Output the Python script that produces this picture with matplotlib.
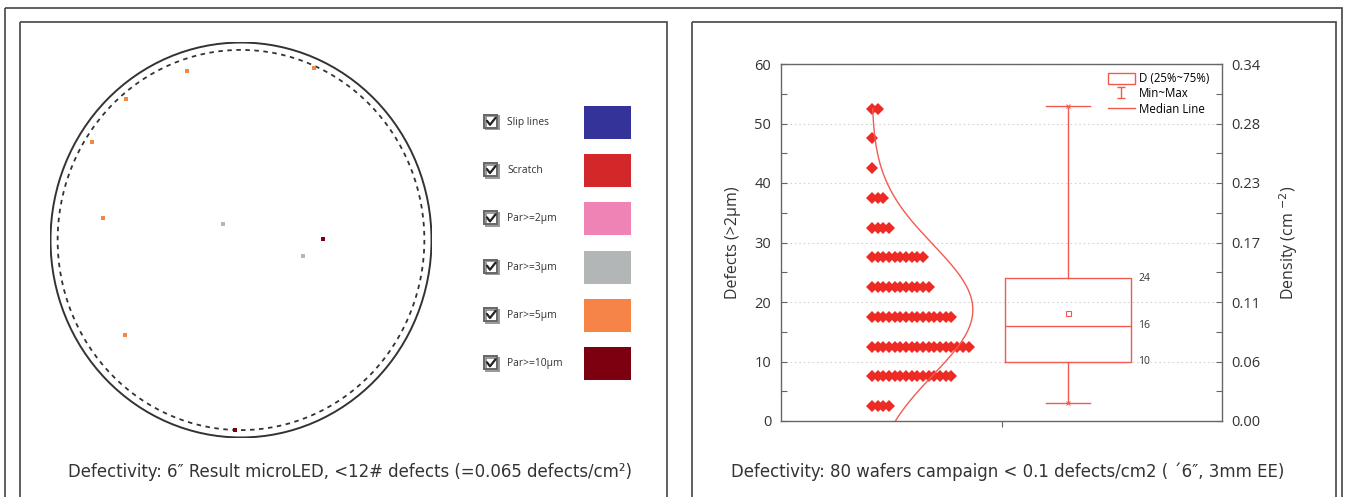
import numpy as np
import matplotlib
matplotlib.use('Agg')
import matplotlib.pyplot as plt
from matplotlib.patches import Rectangle, Ellipse
from matplotlib.lines import Line2D

W, H = 1345, 497
DPI = 100

# ---------------- data: left panel (wafer map, mm from wafer centre) ----------------
legend_labels = ['Slip lines', 'Scratch', 'Par>=2µm', 'Par>=3µm', 'Par>=5µm', 'Par>=10µm']
legend_colors = ['#333399', '#D2282A', '#F083B5', '#B3B6B6', '#F58446', '#7C0010']
par5_x = [-21.3, 28.7, -45.3, -58.5, -54.2, -45.6]
par5_y = [63.9, 65.3, 53.3, 37.2, 8.3, -36.0]
par3_x = [-6.9, 24.2]
par3_y = [6.2, -5.9]
par10_x = [32.1, -2.5]
par10_y = [0.2, -71.9]
wafer_radius_mm = 75
edge_exclusion_mm = 3

# ---------------- data: right panel ----------------
bin_centers = [2.5, 7.5, 12.5, 17.5, 22.5, 27.5, 32.5, 37.5, 42.5, 47.5, 52.5]
bin_counts = [4, 15, 18, 15, 11, 10, 4, 3, 1, 1, 2]
box_q1, box_median, box_q3 = 10, 16, 24
box_mean = 18.1
box_min, box_max = 3, 53
left_ticks = [0, 10, 20, 30, 40, 50, 60]
density_labels = ['0.00', '0.06', '0.11', '0.17', '0.23', '0.28', '0.34']

caption_left = 'Defectivity: 6″ Result microLED, <12# defects (=0.065 defects/cm²)'
caption_right = 'Defectivity: 80 wafers campaign < 0.1 defects/cm2 ( ´6″, 3mm EE)'

RED = '#EE2A24'
BOXRED = '#F25A50'
TXT = '#333333'
SANS = ['Open Sans', 'DejaVu Sans']
CAPF = ['DejaVu Sans']

plt.rcParams['font.family'] = SANS

fig = plt.figure(figsize=(W / DPI, H / DPI), dpi=DPI)


def px_axes(x0, y0, x1, y1, **kw):
    return fig.add_axes([x0 / W, 1 - y1 / H, (x1 - x0) / W, (y1 - y0) / H], **kw)


# ---------------- background / frames / captions ----------------
bg = px_axes(0, 0, W, H, zorder=0)
bg.set_xlim(0, W)
bg.set_ylim(H, 0)
bg.axis('off')
frame_c = '#444444'
bg.add_patch(Rectangle((5, 8), 1337, H, fill=False, ec=frame_c, lw=1.2))
bg.add_patch(Rectangle((20, 22), 647, H, fill=False, ec=frame_c, lw=1.2))
bg.add_patch(Rectangle((692, 22), 644, H, fill=False, ec=frame_c, lw=1.2))
bg.text(350, 472, caption_left, ha='center', va='center', fontsize=13.2,
        family=CAPF, fontstretch='condensed', color=TXT)
bg.text(1008, 472, caption_right, ha='center', va='center', fontsize=13.2,
        family=CAPF, fontstretch='condensed', color=TXT)

# left panel legend (checkbox + label + swatch)
for i, (lab, col) in enumerate(zip(legend_labels, legend_colors)):
    cy = 122.3 + 48.3 * i
    bg.add_patch(Rectangle((485.5, cy - 6), 13, 13, fill=False, ec='#999999', lw=1.4))
    bg.add_patch(Rectangle((484, cy - 7.5), 13, 13, fill=False, ec='#666666', lw=1.4))
    bg.plot([487, 490, 495.5], [cy - 1.5, cy + 2.5, cy - 4.5], color='#222222', lw=1.6,
            solid_capstyle='round')
    bg.text(507, cy, lab, ha='left', va='center', fontsize=7.4, color=TXT)
    bg.add_patch(Rectangle((584, cy - 16.5), 47, 33, fc=col, ec='none'))

# ---------------- wafer map ----------------
wa = px_axes(50, 42, 432, 438, zorder=1)
wa.set_xlim(-wafer_radius_mm, wafer_radius_mm)
wa.set_ylim(-wafer_radius_mm, wafer_radius_mm)
wa.axis('off')
wa.patch.set_alpha(0)
wa.add_patch(Ellipse((0, 0), 2 * wafer_radius_mm - 0.4, 2 * wafer_radius_mm - 0.4,
                     fill=False, ec='#333333', lw=1.4))
r_in = wafer_radius_mm - edge_exclusion_mm
wa.add_patch(Ellipse((0, 0), 2 * r_in, 2 * r_in, fill=False, ec='#333333', lw=1.3,
                     ls=(0, (2.5, 2.5))))
ms = 3.0
wa.plot(par5_x, par5_y, 's', color=legend_colors[4], ms=ms, mew=0)
wa.plot(par3_x, par3_y, 's', color=legend_colors[3], ms=ms, mew=0)
wa.plot(par10_x, par10_y, 's', color=legend_colors[5], ms=ms, mew=0)

# ---------------- right panel: defect distribution ----------------
ax = px_axes(781, 64, 1222, 421, zorder=1)
ax.set_xlim(0.5, 1.5)
ax.set_ylim(0, 60)

# diamonds (dot plot)
d0, dstep = 0.706, 0.0129
for yc, n in zip(bin_centers, bin_counts):
    xs = d0 + dstep * np.arange(n)
    ax.plot(xs, [yc] * n, 'D', color=RED, ms=6.3, mew=0, zorder=3)

# fitted normal curve from the same data
samples = np.repeat(bin_centers, bin_counts)
mu, sd = samples.mean(), samples.std()
yy = np.linspace(0, max(bin_centers), 300)
amp = 0.229
ax.plot(d0 + amp * np.exp(-(yy - mu) ** 2 / (2 * sd ** 2)), yy, color=BOXRED, lw=1.0, zorder=3)

# box plot
bpos = 1.151
stats = [dict(med=box_median, q1=box_q1, q3=box_q3, whislo=box_min, whishi=box_max,
              mean=box_mean, fliers=[])]
ax.bxp(stats, positions=[bpos], widths=0.286, showmeans=True, capwidths=0.1,
       manage_ticks=False,
       boxprops=dict(color=BOXRED, lw=1.0),
       medianprops=dict(color=BOXRED, lw=1.0),
       whiskerprops=dict(color=BOXRED, lw=1.0),
       capprops=dict(color=BOXRED, lw=1.0),
       meanprops=dict(marker='s', markerfacecolor='white', markeredgecolor=BOXRED,
                      markersize=3.6, markeredgewidth=0.8))
ax.plot([bpos, bpos], [box_min, box_max], linestyle='none', marker='x', ms=3,
        mew=0.7, color=BOXRED, zorder=4)
for v in (box_q3, box_median, box_q1):
    ax.text(1.31, v, f'{v}', ha='left', va='center', fontsize=7.5, color=TXT)

# axes styling
ax.set_yticks(left_ticks)
ax.set_yticks(np.arange(5, 60, 10), minor=True)
ax.set_xticks([1.0])
ax.set_xticklabels([''])
ax.tick_params(axis='y', which='both', direction='in', length=4, width=0.8,
               colors='#666666', labelcolor=TXT, labelsize=10.5, pad=7)
ax.tick_params(axis='x', direction='out', length=4, width=0.8, colors='#666666')
for s in ax.spines.values():
    s.set_color('#666666')
    s.set_linewidth(1.0)
ax.yaxis.grid(True, which='major', color='#d5d5d5', ls=(0, (1.5, 2.5)), lw=0.8)
ax.set_axisbelow(True)
ax.set_ylabel('Defects (>2µm)', fontsize=11.5, color=TXT, labelpad=10)

ax2 = ax.twinx()
ax2.set_ylim(0, 60)
ax2.set_yticks(left_ticks)
ax2.set_yticklabels(density_labels)
ax2.set_yticks(np.arange(5, 60, 10), minor=True)
ax2.tick_params(axis='y', which='both', direction='in', length=4, width=0.8,
                colors='#666666', labelcolor=TXT, labelsize=10.5, pad=7)
for s in ax2.spines.values():
    s.set_visible(False)
ax2.set_ylabel('Density (cm $^{-2}$)', fontsize=11.5, color=TXT, labelpad=12)

# legend
h_box = Rectangle((0, 0), 1, 1, fc='white', ec=BOXRED, lw=1.0)
h_err = ax.errorbar([np.nan], [np.nan], yerr=[1], fmt='none', ecolor=BOXRED,
                    capsize=3, elinewidth=1.0)
h_med = Line2D([], [], color=BOXRED, lw=1.0)
ax.legend([h_box, h_err, h_med], ['D (25%~75%)', 'Min~Max', 'Median Line'],
          loc='upper right', bbox_to_anchor=(0.99, 1.0), frameon=False, fontsize=8.3,
          handlelength=2.4, handleheight=1.1, labelspacing=0.2, handletextpad=0.35,
          borderaxespad=0.3)

fig.savefig('out.png', dpi=DPI)
